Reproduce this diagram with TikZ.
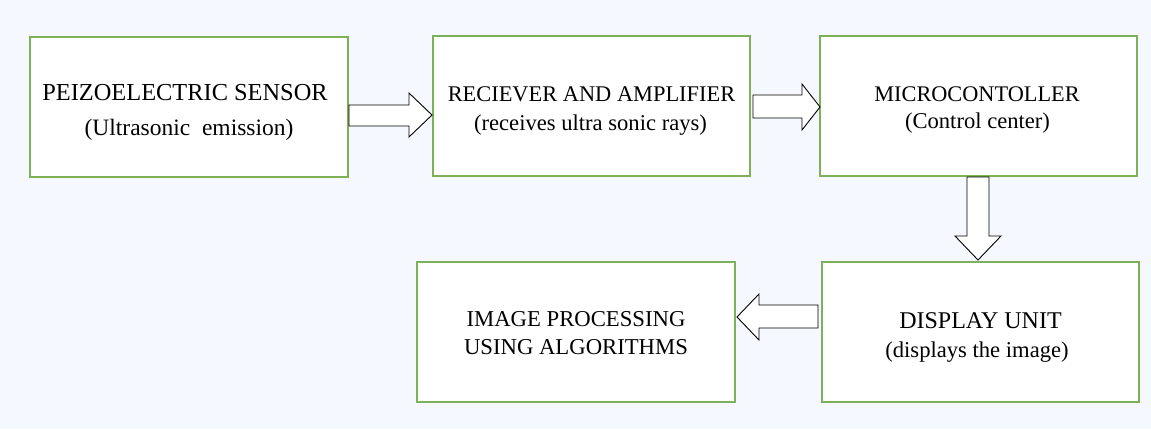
\documentclass[tikz,border=0pt]{standalone}
\usepackage{fontspec}
\setmainfont{Liberation Serif}
\definecolor{bgblue}{HTML}{F5F8FE}
\definecolor{boxgreen}{HTML}{7DB157}
\tikzset{
  box/.style={draw=boxgreen, line width=1.6pt, fill=white, minimum width=317pt, minimum height=140pt, inner sep=0pt},
  lbl/.style={anchor=base, inner sep=0pt, font=\fontsize{22.6}{27}\selectfont},
  blockarrow/.style={draw=black, line width=0.9pt, fill=white, line join=miter},
}
\begin{document}
\begin{tikzpicture}[x=1pt,y=-1pt]
\fill[bgblue] (0,0) rectangle (1151,429);
\useasboundingbox (0,0) rectangle (1151,429);

\node[box, minimum width=318pt] (b1) at (189,107) {};
\node[box] (b2) at (591.5,106) {};
\node[box] (b3) at (978.5,106) {};
\node[box, minimum width=318pt] (b4) at (576,332) {};
\node[box] (b5) at (980.5,332) {};

\node[lbl, font=\fontsize{24.4}{29}\selectfont] (t1a) at (185,100) {PEIZOELECTRIC SENSOR};
\node[lbl, font=\fontsize{23.5}{28}\selectfont] (t1b) at (189,135) {(Ultrasonic\ \ emission)};
\node[lbl, font=\fontsize{22.4}{27}\selectfont] (t2a) at (591.5,101) {RECIEVER AND AMPLIFIER};
\node[lbl] (t2b) at (590.5,130) {(receives ultra sonic rays)};
\node[lbl, font=\fontsize{22.3}{27}\selectfont] (t3a) at (977,101) {MICROCONTOLLER};
\node[lbl] (t3b) at (977.5,128) {(Control center)};
\node[lbl, font=\fontsize{22.7}{27}\selectfont] (t4a) at (576,326) {IMAGE PROCESSING};
\node[lbl, font=\fontsize{22.7}{27}\selectfont] (t4b) at (576,354) {USING ALGORITHMS};
\node[lbl, font=\fontsize{24}{29}\selectfont] (t5a) at (980.5,328) {DISPLAY UNIT};
\node[lbl] (t5b) at (977,357) {(displays the image)};

% arrow b1 -> b2
\draw[blockarrow] (349,105) -- (409,105) -- (409,93) -- (432,115) -- (409,137) -- (409,126) -- (349,126) -- cycle;
% arrow b2 -> b3
\draw[blockarrow] (753,95) -- (802,95) -- (802,84) -- (820,107) -- (802,130) -- (802,118) -- (753,118) -- cycle;
% arrow b3 -> b5
\draw[blockarrow] (967,177) -- (967,236) -- (955,236) -- (978,260) -- (1001,236) -- (989,236) -- (989,177) -- cycle;
% arrow b5 -> b4
\draw[blockarrow] (818,305) -- (759,305) -- (759,294) -- (737,317) -- (759,340) -- (759,328) -- (818,328) -- cycle;
\end{tikzpicture}
\end{document}
